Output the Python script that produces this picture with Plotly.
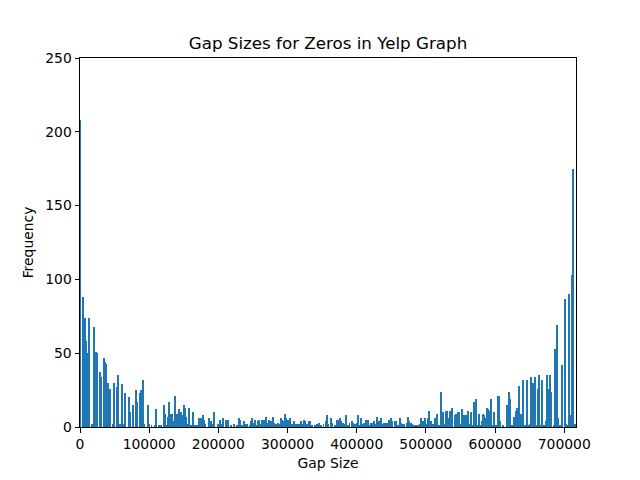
import plotly.graph_objects as go

# Gap sizes (bin positions) and their frequencies
gap_sizes = [
    700, 4335, 7225, 8670, 11990, 13440, 17340, 20660, 23550, 25000,
    29330, 30780, 35110, 36560, 38000, 40890, 42340, 43780, 48120, 49560,
    53900, 55340, 57800, 61120, 64000, 65450, 71240, 72680, 77020, 81350,
    82800, 87130, 88580, 91470, 92480, 98260, 99700, 103300, 108400, 109800,
    114200, 117000, 121400, 122800, 124300, 127200, 128600, 131500, 132900, 134400,
    137300, 138700, 140200, 143100, 144500, 145900, 148800, 150300, 151700, 153200,
    155400, 157500, 160400, 163300, 166200, 169100, 172000, 173400, 174800, 177700,
    179200, 180600, 186400, 187900, 189300, 190700, 193600, 199400, 202300, 205200,
    206600, 211000, 213900, 218200, 222500, 226900, 229800, 231200, 234100, 237000,
    239900, 241300, 244900, 247100, 248500, 251400, 252900, 254300, 257200, 258700,
    261500, 263000, 264400, 265900, 268800, 270200, 271700, 273100, 274600, 277400,
    278900, 280300, 283200, 286100, 287600, 290400, 291900, 294800, 296200, 297700,
    300600, 303500, 304900, 307800, 309200, 312100, 313600, 316500, 319300, 320800,
    323700, 325100, 328000, 330900, 332300, 335200, 339600, 342500, 345400, 348200,
    351900, 355500, 356900, 359100, 362700, 364100, 368500, 371400, 372800, 375700,
    377100, 380000, 382900, 384400, 387300, 389400, 393000, 394500, 397400, 400300,
    401700, 404600, 406000, 408900, 410400, 413300, 414700, 416200, 417600, 420500,
    421900, 424800, 426300, 429200, 432000, 433500, 434900, 436400, 439300, 441400,
    443600, 446500, 449400, 451600, 454500, 456600, 459500, 462400, 463800, 466700,
    468200, 472500, 474000, 475400, 478300, 479700, 482600, 485500, 488400, 491300,
    492700, 495600, 498500, 500000, 502900, 504300, 507200, 508600, 510100, 513000,
    515900, 518800, 521600, 524500, 527400, 528900, 530300, 531800, 533200, 534700,
    536100, 537600, 541900, 543300, 544800, 546200, 547700, 549100, 552000, 554900,
    557800, 559200, 560700, 563500, 565000, 566400, 569300, 570700, 572200, 575100,
    576500, 578000, 580900, 582300, 583800, 586700, 588100, 589600, 592500, 593900,
    596800, 598300, 601100, 604000, 605500, 606900, 611200, 617000, 618400, 619900,
    621400, 624200, 627100, 630000, 631500, 632900, 634400, 637200, 638700, 640100,
    643000, 645900, 648800, 650200, 651700, 654600, 656000, 657500, 660400, 661800,
    663300, 666100, 667600, 670500, 673400, 674800, 677700, 679200, 680600, 684900,
    686400, 689300, 690700, 693600, 696500, 700800, 702300, 703700, 706600, 708000,
    709500, 710900, 712400, 715300,
]

frequencies = [
    208, 88, 74, 58, 50, 74, 2, 68, 51, 50,
    37, 34, 47, 44, 43, 30, 22, 26, 2, 30,
    27, 35, 2, 29, 2, 23, 20, 10, 15, 25,
    17, 23, 25, 32, 2, 15, 2, 1, 1, 12,
    1, 1, 15, 9, 1, 7, 17, 9, 9, 4,
    21, 6, 9, 12, 4, 10, 8, 15, 13, 7,
    2, 13, 1, 10, 1, 1, 6, 5, 6, 8,
    5, 2, 6, 4, 4, 2, 10, 2, 5, 2,
    6, 5, 5, 1, 2, 1, 6, 5, 1, 4,
    2, 2, 1, 4, 6, 3, 5, 1, 4, 5,
    2, 5, 4, 5, 7, 3, 2, 5, 4, 4,
    7, 3, 2, 3, 2, 6, 5, 4, 9, 6,
    5, 6, 2, 2, 4, 2, 2, 2, 4, 2,
    5, 4, 2, 4, 4, 1, 1, 2, 3, 1,
    2, 4, 8, 2, 6, 3, 1, 5, 5, 6,
    4, 3, 2, 8, 1, 3, 4, 3, 2, 3,
    8, 1, 6, 2, 3, 5, 2, 5, 1, 3,
    3, 4, 2, 7, 4, 4, 6, 2, 3, 3,
    3, 5, 6, 4, 4, 4, 1, 6, 3, 2,
    2, 3, 7, 4, 3, 2, 1, 1, 1, 2,
    6, 4, 6, 2, 6, 11, 4, 2, 2, 6,
    9, 1, 24, 10, 2, 11, 11, 4, 6, 11,
    6, 13, 8, 9, 9, 10, 10, 2, 12, 8,
    8, 2, 11, 2, 10, 1, 17, 15, 19, 1,
    9, 1, 4, 9, 8, 6, 13, 12, 11, 19,
    1, 10, 1, 21, 21, 4, 1, 15, 12, 24,
    19, 1, 7, 11, 13, 13, 28, 9, 8, 32,
    1, 32, 1, 2, 34, 30, 29, 34, 1, 26,
    35, 1, 32, 1, 4, 35, 26, 35, 24, 1,
    53, 69, 6, 1, 42, 87, 2, 1, 90, 5,
    8, 103, 175, 2,
]

x_ticks = [0, 100000, 200000, 300000, 400000, 500000, 600000, 700000]
y_ticks = [0, 50, 100, 150, 200, 250]

FONT = "DejaVu Sans"

fig = go.Figure(
    go.Bar(
        x=gap_sizes,
        y=frequencies,
        width=1000,
        marker=dict(color="#1f77b4", line=dict(width=0)),
    )
)

axis_common = dict(
    showline=True,
    linecolor="black",
    linewidth=1,
    mirror=True,
    ticks="outside",
    ticklen=4.5,
    tickwidth=1,
    tickcolor="black",
    showgrid=False,
    zeroline=False,
    tickfont=dict(family=FONT, size=13.9, color="black"),
)

fig.update_layout(
    width=640,
    height=480,
    margin=dict(l=72, r=72, t=50, b=61, autoexpand=False),
    paper_bgcolor="white",
    plot_bgcolor="white",
    showlegend=False,
    bargap=0,
    title=dict(
        text="Gap Sizes for Zeros in Yelp Graph",
        x=0.5,
        xanchor="center",
        xref="paper",
        y=1 - 35 / 480,
        yanchor="middle",
        font=dict(family=FONT, size=16.7, color="black"),
    ),
    xaxis=dict(
        axis_common,
        range=[0, 717000],
        tickvals=x_ticks,
        ticktext=[str(v) for v in x_ticks],
        title=dict(text="Gap Size", font=dict(family=FONT, size=13.9, color="black"), standoff=7),
    ),
    yaxis=dict(
        axis_common,
        range=[0, 250],
        tickvals=y_ticks,
        ticktext=[str(v) for v in y_ticks],
        title=dict(text="Frequency", font=dict(family=FONT, size=13.9, color="black"), standoff=8),
    ),
)

fig.write_html("out.html")
